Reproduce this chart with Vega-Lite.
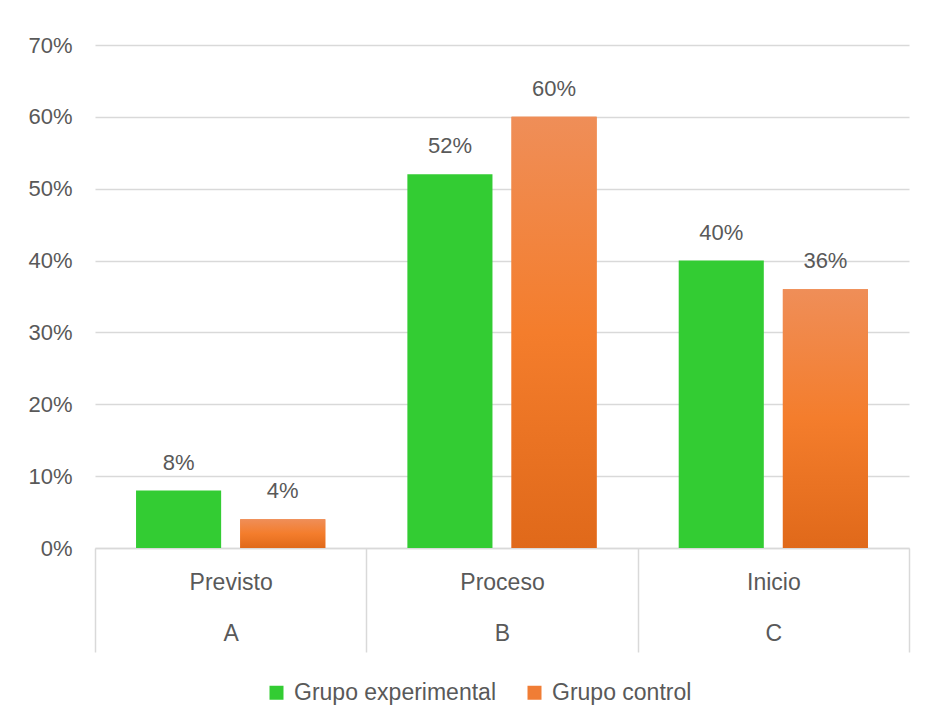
{
  "$schema": "https://vega.github.io/schema/vega-lite/v6.json",
  "width": 814,
  "height": 503,
  "autosize": {"type": "none"},
  "padding": {"left": 95, "top": 45, "right": 18, "bottom": 179},
  "background": "white",
  "config": {
    "font": "Liberation Sans",
    "view": {"stroke": null}
  },
  "data": {
    "values": [
      {"cat": "Previsto", "nivel": "A", "grupo": "Grupo experimental", "valor": 0.08},
      {"cat": "Previsto", "nivel": "A", "grupo": "Grupo control", "valor": 0.04},
      {"cat": "Proceso", "nivel": "B", "grupo": "Grupo experimental", "valor": 0.52},
      {"cat": "Proceso", "nivel": "B", "grupo": "Grupo control", "valor": 0.60},
      {"cat": "Inicio", "nivel": "C", "grupo": "Grupo experimental", "valor": 0.40},
      {"cat": "Inicio", "nivel": "C", "grupo": "Grupo control", "valor": 0.36}
    ]
  },
  "encoding": {
    "x": {
      "field": "cat",
      "type": "nominal",
      "sort": ["Previsto", "Proceso", "Inicio"],
      "scale": {"paddingInner": 0, "paddingOuter": 0},
      "axis": {
        "title": null,
        "labelAngle": 0,
        "labelExpr": "datum.label == 'Previsto' ? ['Previsto', 'A'] : datum.label == 'Proceso' ? ['Proceso', 'B'] : datum.label == 'Inicio' ? ['Inicio', 'C'] : ''",
        "labelLineHeight": 51,
        "labelFontSize": 23,
        "labelColor": "#595959",
        "labelPadding": -81,
        "tickBand": "extent",
        "tickSize": 104,
        "tickColor": "#d9d9d9",
        "tickWidth": 1.5,
        "domainColor": "#d9d9d9",
        "domainWidth": 1.5,
        "grid": false
      }
    },
    "xOffset": {
      "field": "grupo",
      "type": "nominal",
      "sort": ["Grupo experimental", "Grupo control"],
      "scale": {"paddingInner": 0.183, "paddingOuter": 0.394}
    },
    "y": {
      "field": "valor",
      "type": "quantitative",
      "scale": {"domain": [0, 0.7]},
      "axis": {
        "title": null,
        "format": ".0%",
        "values": [0, 0.1, 0.2, 0.3, 0.4, 0.5, 0.6, 0.7],
        "domain": false,
        "ticks": false,
        "labelPadding": 23,
        "labelFontSize": 22,
        "labelColor": "#595959",
        "gridColor": "#d9d9d9",
        "gridWidth": 1.5
      }
    }
  },
  "layer": [
    {
      "mark": {"type": "bar"},
      "encoding": {
        "color": {
          "field": "grupo",
          "type": "nominal",
          "sort": ["Grupo experimental", "Grupo control"],
          "scale": {"domain": ["Grupo experimental", "Grupo control"], "range": ["#33CC33", "#F07D35"]},
          "legend": {
            "title": null,
            "orient": "none",
            "direction": "horizontal",
            "legendX": 170,
            "legendY": 636,
            "padding": 0,
            "symbolType": "square",
            "symbolSize": 196,
            "symbolStrokeWidth": 0,
            "labelFontSize": 23,
            "labelLimit": 400,
            "labelColor": "#595959",
            "labelOffset": 6,
            "columnPadding": 27
          }
        }
      }
    },
    {
      "transform": [{"filter": "datum.grupo == 'Grupo control'"}],
      "mark": {
        "type": "bar",
        "color": {
          "gradient": "linear",
          "x1": 0, "y1": 0, "x2": 0, "y2": 1,
          "stops": [
            {"offset": 0, "color": "#EF8E58"},
            {"offset": 0.5, "color": "#F47D2C"},
            {"offset": 1, "color": "#E0691A"}
          ]
        }
      }
    },
    {
      "mark": {"type": "text", "baseline": "bottom", "dy": -16, "fontSize": 22, "color": "#595959"},
      "encoding": {
        "text": {"field": "valor", "type": "quantitative", "format": ".0%"}
      }
    }
  ]
}
